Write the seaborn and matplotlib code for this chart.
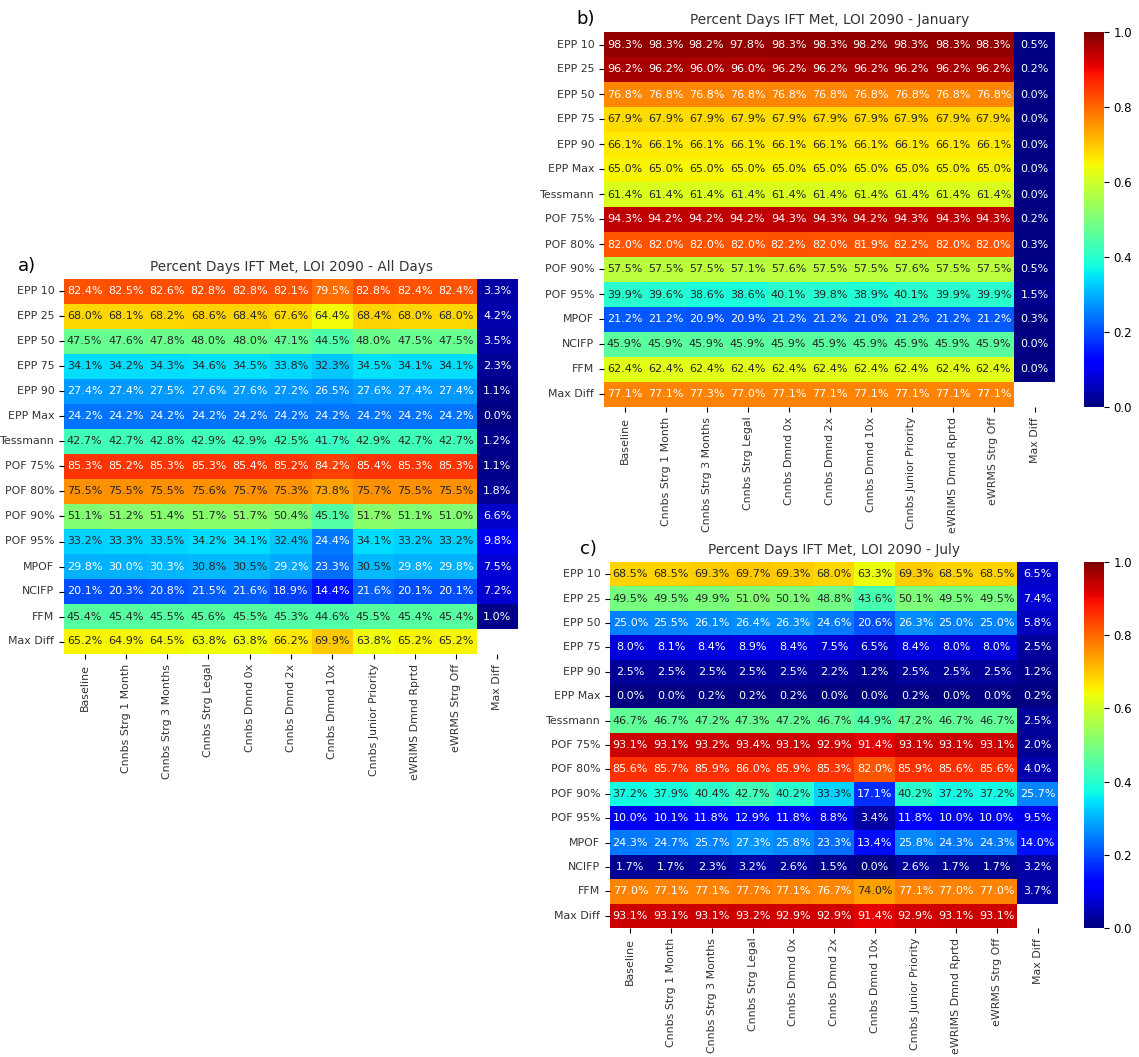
import numpy as np
import pandas as pd
import matplotlib
matplotlib.use("Agg")
import matplotlib.pyplot as plt
import seaborn as sns

# Filas y columnas de las tablas
rows = ['EPP 10', 'EPP 25', 'EPP 50', 'EPP 75', 'EPP 90', 'EPP Max', 'Tessmann',
        'POF 75%', 'POF 80%', 'POF 90%', 'POF 95%', 'MPOF', 'NCIFP', 'FFM', 'Max Diff']
cols = ['Baseline', 'Cnnbs Strg 1 Month', 'Cnnbs Strg 3 Months', 'Cnnbs Strg Legal',
        'Cnnbs Dmnd 0x', 'Cnnbs Dmnd 2x', 'Cnnbs Dmnd 10x', 'Cnnbs Junior Priority',
        'eWRIMS Dmnd Rprtd', 'eWRMS Strg Off', 'Max Diff']

# Porcentaje de dias (ultima columna = Max Diff, None = celda vacia)
all_days = [
    [82.4, 82.5, 82.6, 82.8, 82.8, 82.1, 79.5, 82.8, 82.4, 82.4, 3.3],
    [68.0, 68.1, 68.2, 68.6, 68.4, 67.6, 64.4, 68.4, 68.0, 68.0, 4.2],
    [47.5, 47.6, 47.8, 48.0, 48.0, 47.1, 44.5, 48.0, 47.5, 47.5, 3.5],
    [34.1, 34.2, 34.3, 34.6, 34.5, 33.8, 32.3, 34.5, 34.1, 34.1, 2.3],
    [27.4, 27.4, 27.5, 27.6, 27.6, 27.2, 26.5, 27.6, 27.4, 27.4, 1.1],
    [24.2, 24.2, 24.2, 24.2, 24.2, 24.2, 24.2, 24.2, 24.2, 24.2, 0.0],
    [42.7, 42.7, 42.8, 42.9, 42.9, 42.5, 41.7, 42.9, 42.7, 42.7, 1.2],
    [85.3, 85.2, 85.3, 85.3, 85.4, 85.2, 84.2, 85.4, 85.3, 85.3, 1.1],
    [75.5, 75.5, 75.5, 75.6, 75.7, 75.3, 73.8, 75.7, 75.5, 75.5, 1.8],
    [51.1, 51.2, 51.4, 51.7, 51.7, 50.4, 45.1, 51.7, 51.1, 51.0, 6.6],
    [33.2, 33.3, 33.5, 34.2, 34.1, 32.4, 24.4, 34.1, 33.2, 33.2, 9.8],
    [29.8, 30.0, 30.3, 30.8, 30.5, 29.2, 23.3, 30.5, 29.8, 29.8, 7.5],
    [20.1, 20.3, 20.8, 21.5, 21.6, 18.9, 14.4, 21.6, 20.1, 20.1, 7.2],
    [45.4, 45.4, 45.5, 45.6, 45.5, 45.3, 44.6, 45.5, 45.4, 45.4, 1.0],
    [65.2, 64.9, 64.5, 63.8, 63.8, 66.2, 69.9, 63.8, 65.2, 65.2, None],
]

january = [
    [98.3, 98.3, 98.2, 97.8, 98.3, 98.3, 98.2, 98.3, 98.3, 98.3, 0.5],
    [96.2, 96.2, 96.0, 96.0, 96.2, 96.2, 96.2, 96.2, 96.2, 96.2, 0.2],
    [76.8, 76.8, 76.8, 76.8, 76.8, 76.8, 76.8, 76.8, 76.8, 76.8, 0.0],
    [67.9, 67.9, 67.9, 67.9, 67.9, 67.9, 67.9, 67.9, 67.9, 67.9, 0.0],
    [66.1, 66.1, 66.1, 66.1, 66.1, 66.1, 66.1, 66.1, 66.1, 66.1, 0.0],
    [65.0, 65.0, 65.0, 65.0, 65.0, 65.0, 65.0, 65.0, 65.0, 65.0, 0.0],
    [61.4, 61.4, 61.4, 61.4, 61.4, 61.4, 61.4, 61.4, 61.4, 61.4, 0.0],
    [94.3, 94.2, 94.2, 94.2, 94.3, 94.3, 94.2, 94.3, 94.3, 94.3, 0.2],
    [82.0, 82.0, 82.0, 82.0, 82.2, 82.0, 81.9, 82.2, 82.0, 82.0, 0.3],
    [57.5, 57.5, 57.5, 57.1, 57.6, 57.5, 57.5, 57.6, 57.5, 57.5, 0.5],
    [39.9, 39.6, 38.6, 38.6, 40.1, 39.8, 38.9, 40.1, 39.9, 39.9, 1.5],
    [21.2, 21.2, 20.9, 20.9, 21.2, 21.2, 21.0, 21.2, 21.2, 21.2, 0.3],
    [45.9, 45.9, 45.9, 45.9, 45.9, 45.9, 45.9, 45.9, 45.9, 45.9, 0.0],
    [62.4, 62.4, 62.4, 62.4, 62.4, 62.4, 62.4, 62.4, 62.4, 62.4, 0.0],
    [77.1, 77.1, 77.3, 77.0, 77.1, 77.1, 77.1, 77.1, 77.1, 77.1, None],
]

july = [
    [68.5, 68.5, 69.3, 69.7, 69.3, 68.0, 63.3, 69.3, 68.5, 68.5, 6.5],
    [49.5, 49.5, 49.9, 51.0, 50.1, 48.8, 43.6, 50.1, 49.5, 49.5, 7.4],
    [25.0, 25.5, 26.1, 26.4, 26.3, 24.6, 20.6, 26.3, 25.0, 25.0, 5.8],
    [8.0, 8.1, 8.4, 8.9, 8.4, 7.5, 6.5, 8.4, 8.0, 8.0, 2.5],
    [2.5, 2.5, 2.5, 2.5, 2.5, 2.2, 1.2, 2.5, 2.5, 2.5, 1.2],
    [0.0, 0.0, 0.2, 0.2, 0.2, 0.0, 0.0, 0.2, 0.0, 0.0, 0.2],
    [46.7, 46.7, 47.2, 47.3, 47.2, 46.7, 44.9, 47.2, 46.7, 46.7, 2.5],
    [93.1, 93.1, 93.2, 93.4, 93.1, 92.9, 91.4, 93.1, 93.1, 93.1, 2.0],
    [85.6, 85.7, 85.9, 86.0, 85.9, 85.3, 82.0, 85.9, 85.6, 85.6, 4.0],
    [37.2, 37.9, 40.4, 42.7, 40.2, 33.3, 17.1, 40.2, 37.2, 37.2, 25.7],
    [10.0, 10.1, 11.8, 12.9, 11.8, 8.8, 3.4, 11.8, 10.0, 10.0, 9.5],
    [24.3, 24.7, 25.7, 27.3, 25.8, 23.3, 13.4, 25.8, 24.3, 24.3, 14.0],
    [1.7, 1.7, 2.3, 3.2, 2.6, 1.5, 0.0, 2.6, 1.7, 1.7, 3.2],
    [77.0, 77.1, 77.1, 77.7, 77.1, 76.7, 74.0, 77.1, 77.0, 77.0, 3.7],
    [93.1, 93.1, 93.1, 93.2, 92.9, 92.9, 91.4, 92.9, 93.1, 93.1, None],
]

W, H = 1139, 1057
fig = plt.figure(figsize=(W / 100, H / 100), dpi=100)


def box(x0, y0, x1, y1):
    # pixeles (desde arriba) -> fraccion de figura
    return [x0 / W, 1 - y1 / H, (x1 - x0) / W, (y1 - y0) / H]


paneles = [
    ('a)', 'Percent Days IFT Met, LOI 2090 - All Days', all_days,
     box(64, 279, 518, 654), None, (18, 275)),
    ('b)', 'Percent Days IFT Met, LOI 2090 - January', january,
     box(604, 32, 1055, 407), box(1084, 32, 1104, 407), (576, 28)),
    ('c)', 'Percent Days IFT Met, LOI 2090 - July', july,
     box(610, 562, 1058, 928), box(1084, 562, 1104, 928), (580, 558)),
]

for letra, titulo, valores, pos, cpos, lpos in paneles:
    df = pd.DataFrame(np.array(valores, dtype=float) / 100, index=rows, columns=cols)
    ax = fig.add_axes(pos)
    if cpos is None:
        sns.heatmap(df, ax=ax, cmap='jet', vmin=0, vmax=1, annot=True, fmt='.1%',
                    annot_kws={'size': 8}, cbar=False)
    else:
        cax = fig.add_axes(cpos)
        sns.heatmap(df, ax=ax, cmap='jet', vmin=0, vmax=1, annot=True, fmt='.1%',
                    annot_kws={'size': 8}, cbar_ax=cax)
        cax.tick_params(labelsize=8.5)
    ax.set_title(titulo, fontsize=9.8, color='#333333')
    ax.set_xticklabels(ax.get_xticklabels(), rotation=90)
    ax.set_yticklabels(ax.get_yticklabels(), rotation=0)
    ax.tick_params(labelsize=7.9, labelcolor='#333333')
    fig.text(lpos[0] / W, 1 - lpos[1] / H, letra, fontsize=13, va='bottom')

fig.savefig('out.png', dpi=100)
